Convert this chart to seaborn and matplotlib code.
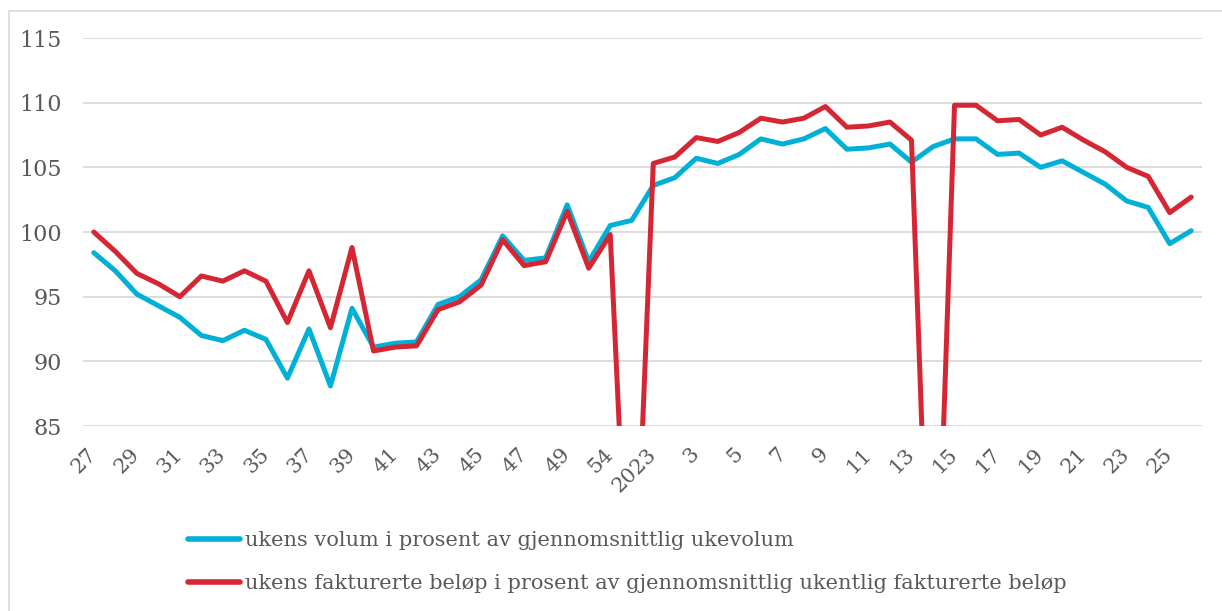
import numpy as np
import pandas as pd
import matplotlib
matplotlib.use("Agg")
import matplotlib.pyplot as plt
import seaborn as sns
from matplotlib.patches import Rectangle

weeks = ["27", "28", "29", "30", "31", "32", "33", "34", "35", "36", "37", "38", "39",
         "40", "41", "42", "43", "44", "45", "46", "47", "48", "49", "50", "54", "52",
         "2023", "2", "3", "4", "5", "6", "7", "8", "9", "10", "11", "12", "13", "14",
         "15", "16", "17", "18", "19", "20", "21", "22", "23", "24", "25", "26"]

volum = [98.4, 97.0, 95.2, 94.3, 93.4, 92.0, 91.6, 92.4, 91.7, 88.7, 92.5, 88.1, 94.1,
         91.1, 91.4, 91.5, 94.4, 95.0, 96.3, 99.7, 97.8, 98.0, 102.1, 97.7, 100.5, 100.9,
         103.6, 104.2, 105.7, 105.3, 106.0, 107.2, 106.8, 107.2, 108.0, 106.4, 106.5, 106.8,
         105.4, 106.6, 107.2, 107.2, 106.0, 106.1, 105.0, 105.5, 104.6, 103.7, 102.4, 101.9,
         99.1, 100.1]

belop = [100.0, 98.5, 96.8, 96.0, 95.0, 96.6, 96.2, 97.0, 96.2, 93.0, 97.0, 92.6, 98.8,
         90.8, 91.1, 91.2, 94.0, 94.6, 95.9, 99.4, 97.4, 97.7, 101.6, 97.2, 99.8, 64.4,
         105.3, 105.8, 107.3, 107.0, 107.7, 108.8, 108.5, 108.8, 109.7, 108.1, 108.2, 108.5,
         107.1, 61.0, 109.8, 109.8, 108.6, 108.7, 107.5, 108.1, 107.1, 106.2, 105.0, 104.3,
         101.5, 102.7]

series_names = ["ukens volum i prosent av gjennomsnittlig ukevolum",
                "ukens fakturerte beløp i prosent av gjennomsnittlig ukentlig fakturerte beløp"]
colors = ["#00B0D6", "#D52733"]
yticks = [85, 90, 95, 100, 105, 110, 115]

pos = np.arange(len(weeks))
df = pd.DataFrame({
    "pos": np.concatenate([pos, pos]),
    "verdi": volum + belop,
    "serie": [series_names[0]] * len(pos) + [series_names[1]] * len(pos),
})

sns.set_style("white")
plt.rcParams["font.family"] = ["DejaVu Serif"]
txt = "#595959"
fs = 15

fig = plt.figure(figsize=(12.22, 6.11), dpi=100)
ax = fig.add_axes([83 / 1222, 1 - 426 / 611, (1202 - 83) / 1222, (426 - 38) / 611])

fig.patches.append(Rectangle((9 / 1222, -0.1), 1.2, 1 - 11 / 611 + 0.1,
                             transform=fig.transFigure, fill=False,
                             edgecolor="#D9D9D9", linewidth=1.2))

sns.lineplot(data=df, x="pos", y="verdi", hue="serie", palette=colors, ax=ax,
             linewidth=3.6, sort=False, legend=True)
for ln in ax.get_lines():
    ln.set_solid_capstyle("round")
    ln.set_solid_joinstyle("round")

ax.set_xlim(-0.5, len(weeks) - 0.5)
ax.set_ylim(85, 115)
ax.set_yticks(yticks)
ax.set_yticklabels([str(v) for v in yticks])
ax.set_xticks(pos[::2])
ax.set_xticklabels(weeks[::2], rotation=45, ha="right", va="center", rotation_mode="anchor")
ax.tick_params(axis="x", length=0, pad=18, labelsize=fs, labelcolor=txt)
ax.tick_params(axis="y", length=0, pad=15, labelsize=16, labelcolor=txt)
ax.grid(axis="y", color="#D9D9D9", linewidth=1.3)
ax.grid(axis="x", visible=False)
for s in ax.spines.values():
    s.set_visible(False)
ax.set_xlabel("")
ax.set_ylabel("")

leg = ax.legend(loc="upper left", bbox_to_anchor=(188 / 1222, 1 - 531 / 611),
                bbox_transform=fig.transFigure, frameon=False, fontsize=fs,
                handlelength=2.5, handletextpad=0.25, labelspacing=1.15,
                borderpad=0, borderaxespad=0)
for t in leg.get_texts():
    t.set_color(txt)
for h in leg.get_lines():
    h.set_linewidth(4)
    h.set_solid_capstyle("round")

fig.savefig("out.png", dpi=100)
